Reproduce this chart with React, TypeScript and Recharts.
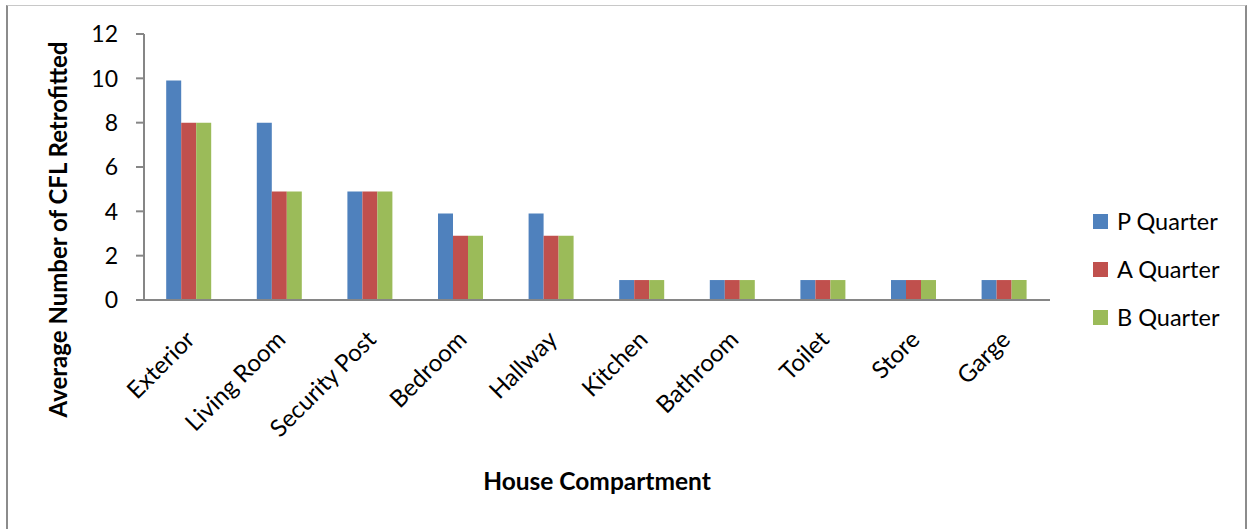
import React from "react";
import { BarChart, Bar, XAxis, YAxis, Legend } from "recharts";

const categories = ["Exterior", "Living Room", "Security Post", "Bedroom", "Hallway", "Kitchen", "Bathroom", "Toilet", "Store", "Garge"];
const pQuarter = [9.9, 8, 4.9, 3.9, 3.9, 0.9, 0.9, 0.9, 0.9, 0.9];
const aQuarter = [8, 4.9, 4.9, 2.9, 2.9, 0.9, 0.9, 0.9, 0.9, 0.9];
const bQuarter = [8, 4.9, 4.9, 2.9, 2.9, 0.9, 0.9, 0.9, 0.9, 0.9];
const yTicks = [0, 2, 4, 6, 8, 10, 12];
const seriesNames = ["P Quarter", "A Quarter", "B Quarter"];
const seriesColors = ["#4F81BD", "#C0504D", "#9BBB59"];

const data = categories.map((c, i) => ({
  name: c,
  p: pQuarter[i],
  a: aQuarter[i],
  b: bQuarter[i],
}));

const FONT = "Lato, 'Open Sans', sans-serif";

const XTick = (props: any) => {
  const { x, y, payload } = props;
  const ax = x + 7;
  const ay = y + 33;
  return (
    <text
      x={ax}
      y={ay}
      textAnchor="end"
      transform={`rotate(-45, ${ax}, ${ay})`}
      fontFamily={FONT}
      fontSize={24}
      fill="#000"
    >
      {payload.value}
    </text>
  );
};

const YTick = (props: any) => {
  const { x, y, payload } = props;
  return (
    <text x={x} y={y} dy="0.36em" textAnchor="end" fontFamily={FONT} fontSize={23} fill="#000">
      {payload.value}
    </text>
  );
};

const LegendContent = () => (
  <div style={{ position: "relative", width: 150, height: 120 }}>
    {seriesNames.map((n, i) => (
      <div
        key={n}
        style={{
          position: "absolute",
          left: 0,
          top: i * 48,
          height: 30,
          display: "flex",
          alignItems: "center",
          fontFamily: FONT,
          fontSize: 23.5,
          color: "#000",
          whiteSpace: "nowrap",
        }}
      >
        <span style={{ display: "inline-block", width: 15, height: 15, background: seriesColors[i], marginRight: 9 }} />
        {n}
      </div>
    ))}
  </div>
);

const XTitle = () => (
  <text x={597} y={490} textAnchor="middle" fontFamily={FONT} fontWeight="bold" fontSize={24.5} fill="#000">
    House Compartment
  </text>
);

const YTitle = () => (
  <text
    x={67}
    y={229.5}
    textAnchor="middle"
    transform="rotate(-90, 67, 229.5)"
    fontFamily={FONT}
    fontWeight="bold"
    fontSize={24}
    fill="#000"
  >
    Average Number of CFL Retrofitted
  </text>
);

export default function App() {
  return (
    <div style={{ position: "absolute", left: 0, top: 0, width: 1249, height: 529, overflow: "hidden", background: "#fff" }}>
      <div
        style={{
          position: "absolute",
          left: 6,
          top: 5,
          width: 1241,
          height: 600,
          borderTop: "1px solid #c8c8c8",
          borderLeft: "2px solid #8c8c8c",
          borderRight: "2px solid #8c8c8c",
          boxSizing: "border-box",
        }}
      />
      <div style={{ position: "absolute", left: 0, top: 0 }}>
        <BarChart
          width={1249}
          height={529}
          data={data}
          margin={{ top: 34, right: 49, left: 84, bottom: 109 }}
          barCategoryGap="24.5%"
          barGap={0}
        >
          <XAxis
            dataKey="name"
            height={120}
            tickLine={false}
            axisLine={{ stroke: "#868686", strokeWidth: 2 }}
            tick={<XTick />}
            interval={0}
            label={<XTitle />}
          />
          <YAxis
            width={60}
            domain={[0, 12]}
            ticks={yTicks}
            interval={0}
            tickSize={8}
            tickMargin={18}
            axisLine={{ stroke: "#868686", strokeWidth: 2 }}
            tickLine={{ stroke: "#868686", strokeWidth: 2 }}
            tick={<YTick />}
            label={<YTitle />}
          />
          <Legend
            layout="vertical"
            align="right"
            verticalAlign="top"
            content={<LegendContent />}
            wrapperStyle={{ position: "absolute", left: 1093, top: 206, width: 150 }}
          />
          <Bar dataKey="p" name="P Quarter" fill={seriesColors[0]} isAnimationActive={false} />
          <Bar dataKey="a" name="A Quarter" fill={seriesColors[1]} isAnimationActive={false} />
          <Bar dataKey="b" name="B Quarter" fill={seriesColors[2]} isAnimationActive={false} />
        </BarChart>
      </div>
    </div>
  );
}
